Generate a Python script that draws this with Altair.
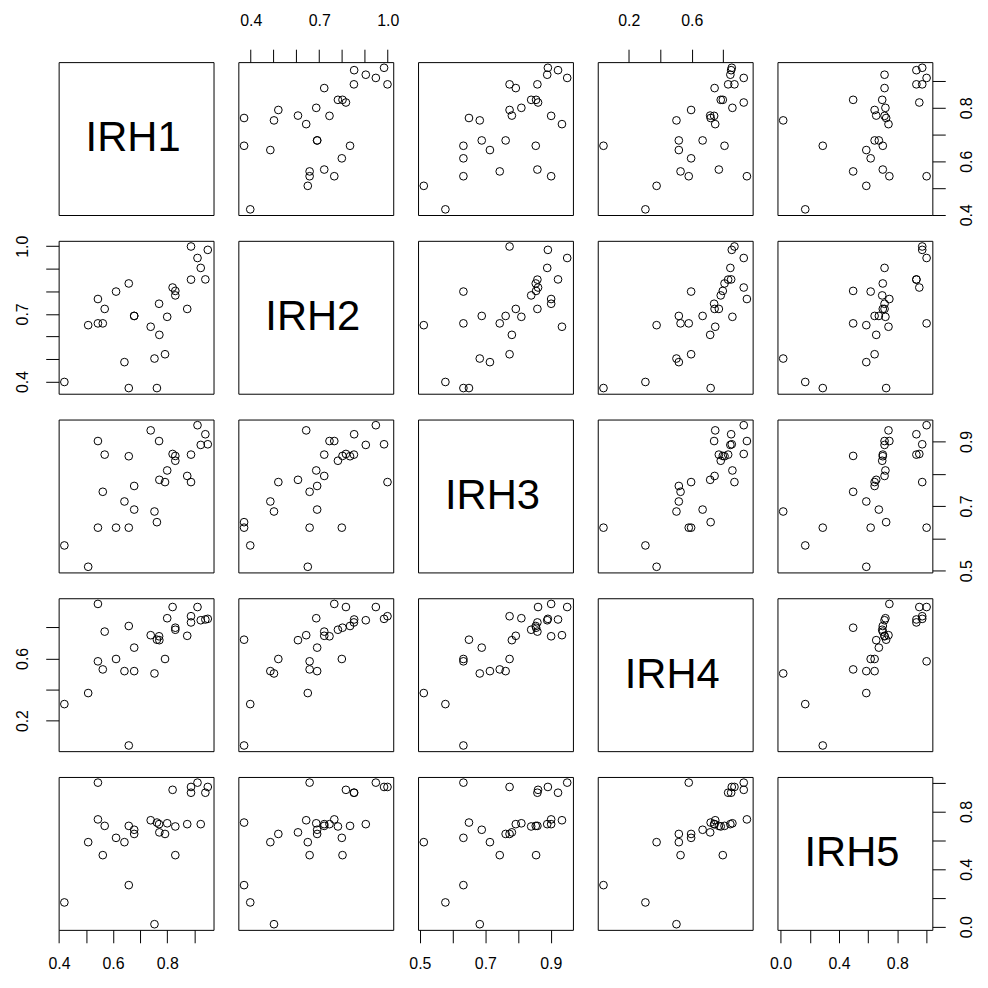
import altair as alt
import pandas as pd

NAMES = ["IRH1", "IRH2", "IRH3", "IRH4", "IRH5"]

IRH1 = [0.941, 0.924, 0.912, 0.950, 0.888, 0.874, 0.888, 0.830, 0.830, 0.820,
        0.792, 0.753, 0.762, 0.800, 0.771, 0.739, 0.770, 0.678, 0.678, 0.658,
        0.642, 0.658, 0.611, 0.562, 0.544, 0.508, 0.569, 0.544, 0.420]
IRH2 = [0.853, 0.904, 0.948, 0.984, 0.999, 0.722, 0.852, 0.782, 0.802, 0.817,
        0.521, 0.502, 0.371, 0.687, 0.607, 0.643, 0.745, 0.691, 0.691, 0.371,
        0.486, 0.835, 0.799, 0.658, 0.658, 0.650, 0.722, 0.766, 0.398]
IRH3 = [0.922, 0.889, 0.950, 0.891, 0.774, 0.793, 0.859, 0.840, 0.855, 0.861,
        0.774, 0.683, 0.650, 0.810, 0.781, 0.934, 0.901, 0.762, 0.689, 0.633,
        0.714, 0.854, 0.633, 0.744, 0.633, 0.512, 0.859, 0.901, 0.578]
IRH4 = [0.850, 0.845, 0.930, 0.854, 0.871, 0.745, 0.831, 0.784, 0.797, 0.930,
        0.596, 0.503, 0.720, 0.858, 0.717, 0.749, 0.742, 0.518, 0.669, 0.040,
        0.518, 0.808, 0.596, 0.529, 0.581, 0.377, 0.772, 0.950, 0.306]
IRH5 = [0.930, 0.712, 1.000, 0.970, 0.970, 0.712, 0.930, 0.696, 0.497, 0.950,
        0.644, 0.018, 0.723, 0.718, 0.655, 0.739, 0.712, 0.644, 0.673, 0.289,
        0.587, 0.700, 0.617, 0.497, 1.000, 0.587, 0.700, 0.745, 0.169]

# axis tick positions and the labels R keeps (it drops overlapping ones)
TICKS = {
    "IRH1": [0.4, 0.5, 0.6, 0.7, 0.8, 0.9],
    "IRH2": [0.4, 0.5, 0.6, 0.7, 0.8, 0.9, 1.0],
    "IRH3": [0.5, 0.6, 0.7, 0.8, 0.9],
    "IRH4": [0.2, 0.4, 0.6, 0.8],
    "IRH5": [0.0, 0.2, 0.4, 0.6, 0.8, 1.0],
}
SHOWN = {
    "IRH1": ["0.4", "0.6", "0.8"],
    "IRH2": ["0.4", "0.7", "1.0"],
    "IRH3": ["0.5", "0.7", "0.9"],
    "IRH4": ["0.2", "0.6"],
    "IRH5": ["0.0", "0.4", "0.8"],
}

df = pd.DataFrame({"IRH1": IRH1, "IRH2": IRH2, "IRH3": IRH3,
                   "IRH4": IRH4, "IRH5": IRH5})

FONT = "Liberation Sans"
W, H = 156, 154
TICK = 13


def domain(v):
    lo, hi = min(df[v]), max(df[v])
    r = hi - lo
    return [lo - 0.04 * r, hi + 0.04 * r]


def label_expr(v):
    arr = ",".join("'%s'" % s for s in SHOWN[v])
    return ("indexof([%s], format(datum.value, '.1f')) >= 0 ? "
            "format(datum.value, '.1f') : ''") % arr


def axis(v, orient):
    common = dict(orient=orient, values=TICKS[v], labelExpr=label_expr(v),
                  tickSize=TICK, domain=False, grid=False, title=None,
                  labelFont=FONT, labelFontSize=16, labelColor="black",
                  tickColor="black", tickWidth=1, labelOverlap=False,
                  labelFlush=False, labelBound=False)
    if orient == "bottom":
        return alt.Axis(labelPadding=13, **common)
    if orient == "top":
        return alt.Axis(labelPadding=21, **common)
    if orient == "left":
        return alt.Axis(labelPadding=15, labelAngle=270, labelAlign="center",
                        labelBaseline="bottom", **common)
    return alt.Axis(labelPadding=13, labelAngle=270, labelAlign="center",
                    labelBaseline="top", **common)


panels = []
for r, yv in enumerate(NAMES):
    for c, xv in enumerate(NAMES):
        if r == 4 and c in (0, 2, 4):
            xa = axis(xv, "bottom")
        elif r == 0 and c in (1, 3):
            xa = axis(xv, "top")
        else:
            xa = None
        if c == 0 and r in (1, 3):
            ya = axis(yv, "left")
        elif c == 4 and r in (0, 2, 4):
            ya = axis(yv, "right")
        else:
            ya = None
        pts = alt.Chart(df).mark_point(
            shape="circle", filled=False, size=60, strokeWidth=1,
            color="black", opacity=0 if r == c else 1
        ).encode(
            x=alt.X(xv + ":Q", scale=alt.Scale(domain=domain(xv), nice=False, zero=False),
                    axis=xa),
            y=alt.Y(yv + ":Q", scale=alt.Scale(domain=domain(yv), nice=False, zero=False),
                    axis=ya),
        )
        if r == c:
            txt = alt.Chart(pd.DataFrame({"lab": [xv]})).mark_text(
                font=FONT, fontSize=42, color="black", align="center",
                baseline="middle"
            ).encode(text="lab:N", x=alt.value(W / 2 - 3), y=alt.value(H / 2))
            panel = alt.layer(pts, txt).properties(width=W, height=H)
        else:
            panel = pts.properties(width=W, height=H)
        panels.append(panel)

chart = alt.concat(
    *panels, columns=5, spacing={"row": 26, "column": 25}, bounds="flush"
).properties(
    padding={"left": 6, "top": 0, "right": 5, "bottom": 5},
    background="white",
).configure_view(
    stroke="black", strokeWidth=1
)

chart.save("out.html", embed_options={"renderer": "svg", "actions": False})
